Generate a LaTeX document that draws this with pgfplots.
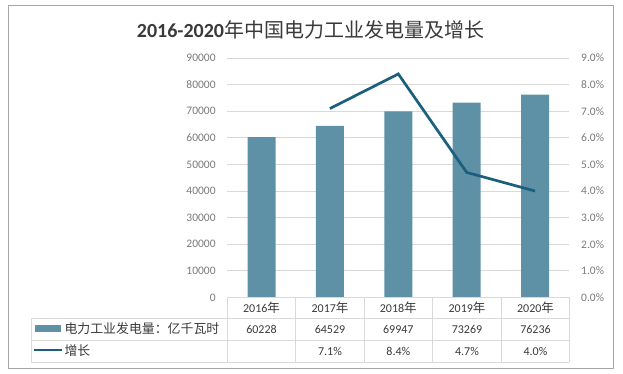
\documentclass[border=0pt]{standalone}
\usepackage{fontspec}
\setmainfont{Carlito}
\newfontfamily\cjk{Noto Sans CJK SC}[BoldFont={Noto Sans CJK SC Bold}]
\usepackage{pgfplots}
\pgfplotsset{compat=1.18}
\definecolor{barc}{HTML}{5E90A6}
\definecolor{linec}{HTML}{1B5F7D}
\definecolor{gridc}{HTML}{D9D9D9}
\definecolor{tickc}{HTML}{7A7A7A}
\definecolor{txtc}{HTML}{3A3A3A}
\definecolor{framec}{HTML}{A6A6A6}
\begin{document}
\begin{tikzpicture}
\useasboundingbox (0,0) rectangle (623bp,374bp);
% outer frame
\draw[framec, line width=1bp] (8bp,5bp) rectangle (613bp,368bp);
% title
\node[text=txtc, inner sep=0pt, font=\fontsize{20bp}{22bp}\selectfont] at (310.5bp,344bp) {\textbf{2016-2020}{\cjk 年中国电力工业发电量及增长}};
\begin{axis}[
  at={(227.3bp,76.5bp)}, anchor=south west,
  scale only axis, width=342bp, height=239.5bp,
  xmin=-0.5, xmax=4.5, ymin=0, ymax=90000,
  xtick=\empty, ytick distance=10000,
  scaled y ticks=false,
  axis line style={draw=none}, major tick length=0pt,
  ymajorgrids, grid style={gridc, line width=0.8bp},
  /pgf/number format/assume math mode=true,
  /pgf/number format/1000 sep={},
  yticklabel style={font=\fontsize{11.5bp}{13bp}\selectfont, text=tickc, anchor=east, inner sep=0pt, xshift=-11.5bp},
  clip=false,
]
\addplot[ybar, bar width=28bp, fill=barc, draw=none] coordinates {(0,60228) (1,64529) (2,69947) (3,73269) (4,76236)};
\end{axis}
\begin{axis}[
  at={(227.3bp,76.5bp)}, anchor=south west,
  scale only axis, width=342bp, height=239.5bp,
  xmin=-0.5, xmax=4.5, ymin=0, ymax=9,
  xtick=\empty, ytick={0,1,...,9},
  axis y line*=right, axis x line=none,
  axis line style={draw=none}, major tick length=0pt,
  /pgf/number format/assume math mode=true,
  yticklabel={\pgfmathprintnumber[fixed,fixed zerofill,precision=1]{\tick}\%},
  yticklabel style={font=\fontsize{11.5bp}{13bp}\selectfont, text=tickc, anchor=west, inner sep=0pt, xshift=11.7bp},
  clip=false,
]
\addplot[linec, line width=2.7bp, no marks, line join=miter] coordinates {(1,7.1) (2,8.4) (3,4.7) (4,4.0)};
\end{axis}
% data table
\begin{scope}[gridc, line width=0.8bp]
\draw (227.3bp,76.7bp) -- (569.3bp,76.7bp);
\draw (31.3bp,55.7bp) -- (569.3bp,55.7bp);
\draw (31.3bp,33.7bp) -- (569.3bp,33.7bp);
\draw (31.3bp,12bp) -- (569.3bp,12bp);
\draw (31.3bp,55.7bp) -- (31.3bp,12bp);
\foreach \x in {227.3,295.7,364.3,432.3,501.7,569.3} \draw (\x bp,76.7bp) -- (\x bp,12bp);
\end{scope}
\begin{scope}[every node/.style={text=txtc, font=\fontsize{12bp}{14bp}\selectfont, inner sep=0pt}]
\foreach \x/\y in {261.5/2016,330/2017,398.3/2018,467/2019,535.5/2020}
  \node at (\x bp,66.2bp) {\y{\cjk\fontsize{12.5bp}{14bp}\selectfont 年}};
\foreach \x/\v in {261.5/60228,330/64529,398.3/69947,467/73269,535.5/76236}
  \node at (\x bp,44.7bp) {\v};
\foreach \x/\v in {330/7.1\%,398.3/8.4\%,467/4.7\%,535.5/4.0\%}
  \node at (\x bp,22.9bp) {\v};
\node[anchor=west] at (64.3bp,45.2bp) {\cjk\fontsize{12.9bp}{14bp}\selectfont 电力工业发电量：亿千瓦时};
\node[anchor=west] at (64.3bp,23.4bp) {\cjk\fontsize{12.9bp}{14bp}\selectfont 增长};
\end{scope}
\fill[barc] (35bp,42.2bp) rectangle (61bp,49.2bp);
\draw[linec, line width=2.8bp] (34bp,24bp) -- (62bp,24bp);
\end{tikzpicture}
\end{document}
